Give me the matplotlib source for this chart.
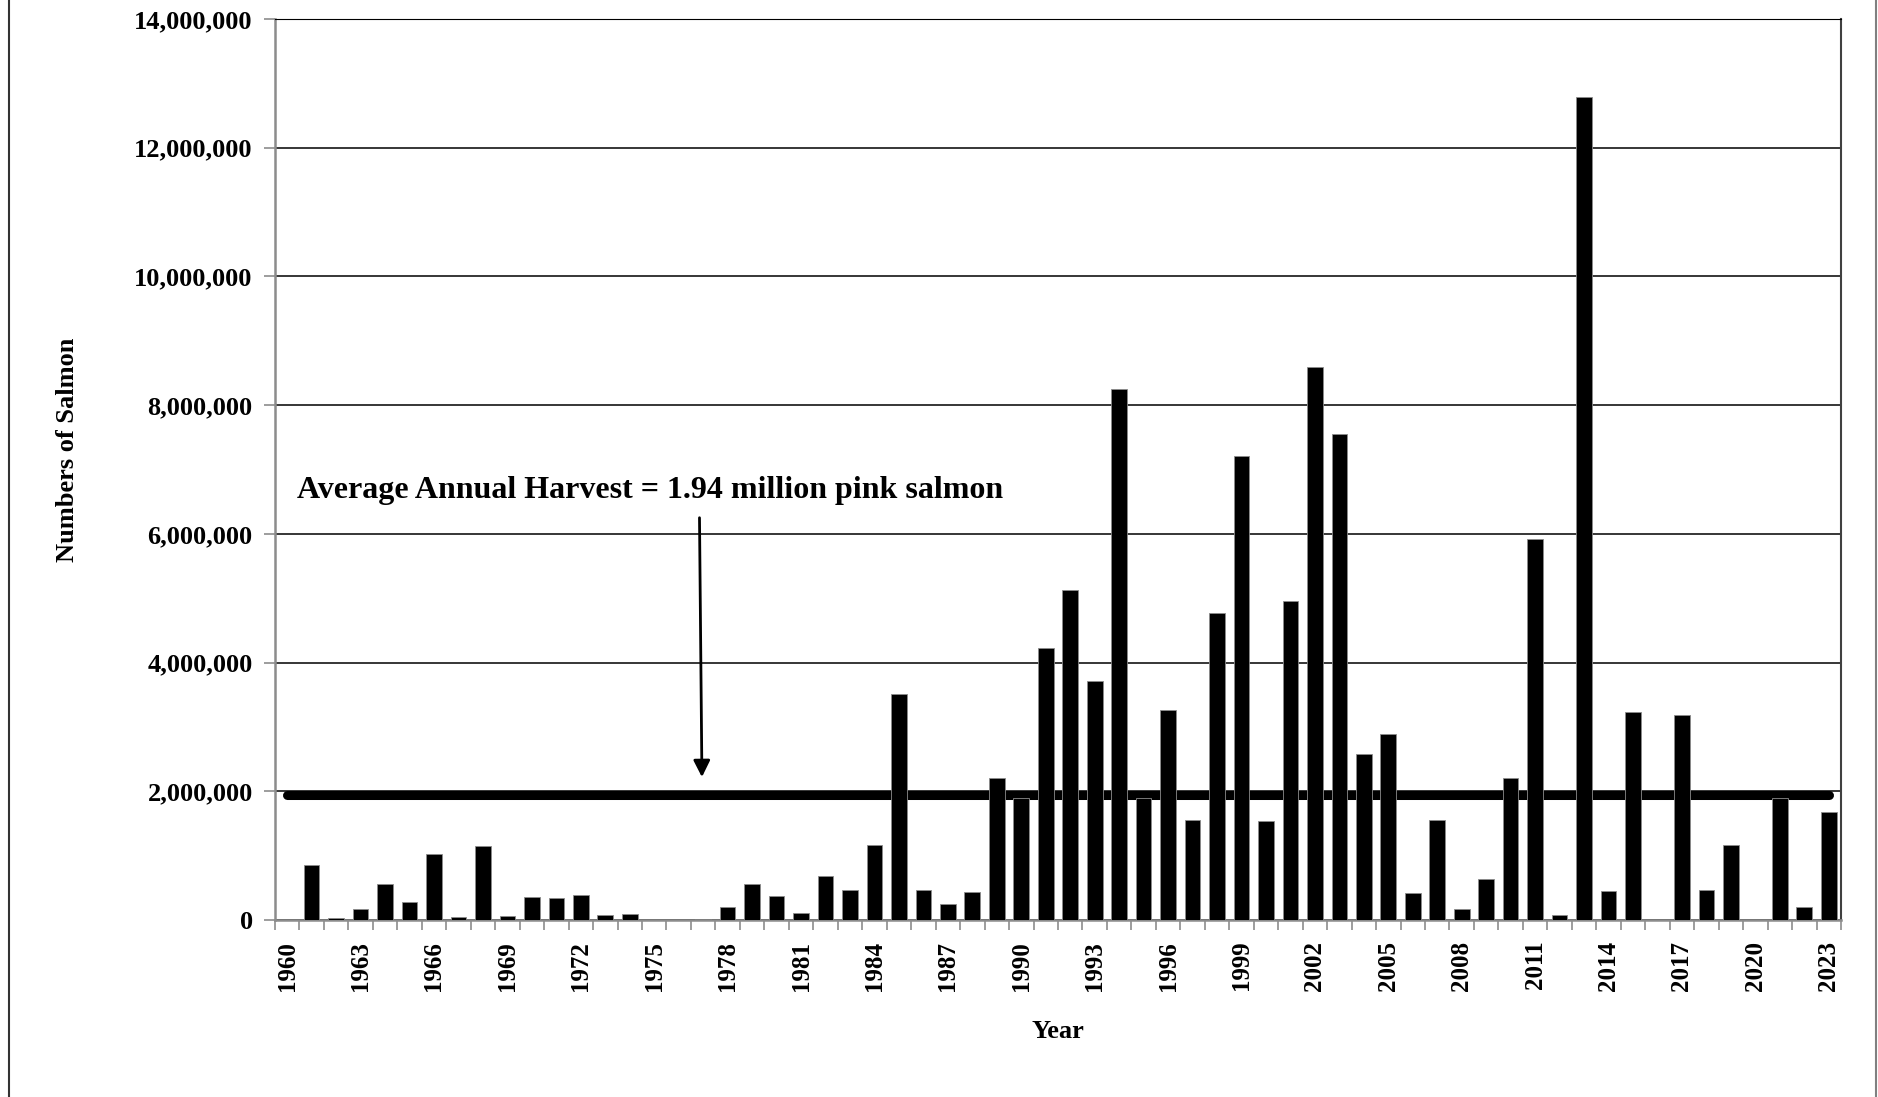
import numpy as np
import matplotlib
matplotlib.use("Agg")
import matplotlib.pyplot as plt
from matplotlib.lines import Line2D

# =========================
# DATA
# =========================
years = list(range(1960, 2024))
harvest = [
    0, 850000, 30000, 170000, 560000, 280000, 1020000, 40000, 1150000, 60000,      # 1960-1969
    350000, 340000, 390000, 70000, 90000, 0, 0, 10000, 200000, 560000,             # 1970-1979
    370000, 110000, 690000, 470000, 1170000, 3510000, 470000, 240000, 430000, 2210000,  # 1980-1989
    1900000, 4220000, 5130000, 3710000, 8250000, 1900000, 3270000, 1550000, 4770000, 7210000,  # 1990-1999
    1540000, 4960000, 8590000, 7550000, 2580000, 2890000, 420000, 1550000, 170000, 640000,  # 2000-2009
    2210000, 5920000, 80000, 12780000, 450000, 3230000, 0, 3180000, 470000, 1160000,  # 2010-2019
    0, 1900000, 200000, 1680000,                                                   # 2020-2023
]
average = 1940000
label_years = years[::3]
yticks = list(range(0, 14000001, 2000000))
note = "Average Annual Harvest = 1.94 million pink salmon"

# =========================
# FIGURE
# =========================
plt.rcParams["font.family"] = ["Liberation Serif", "DejaVu Serif"]
plt.rcParams["font.weight"] = "bold"

fig = plt.figure(figsize=(18.78, 10.97), dpi=100)
ax = fig.add_axes([0.1464, 0.1614, 0.8339, 0.8213])

x = np.arange(len(years))

# average line under the bars
ax.plot([0, len(years) - 1], [average, average], color="black", lw=6.5,
        solid_capstyle="round", zorder=2)

ax.bar(x, harvest, width=0.64, color="black", edgecolor="#8c8c8c",
       linewidth=0.6, zorder=3)

ax.set_xlim(-0.5, len(years) - 0.5)
ax.set_ylim(0, 14000000)

ax.set_yticks(yticks)
ax.set_yticklabels([f"{v:,}" for v in yticks], fontsize=19, fontweight="bold")
ax.yaxis.grid(True, color="black", lw=1.1, zorder=0)
ax.set_axisbelow(True)
ax.tick_params(axis="y", length=8, width=1.2, color="#8c8c8c", pad=8)

# year labels at centers, tick marks between categories
ax.set_xticks([years.index(y) for y in label_years])
ax.set_xticklabels([str(y) for y in label_years], rotation=90, fontsize=18,
                   fontweight="bold")
ax.set_xticks(np.arange(-0.5, len(years)), minor=True)
ax.tick_params(axis="x", which="major", length=0, pad=15)
ax.tick_params(axis="x", which="minor", length=7, width=1.2, color="#8c8c8c")

for side in ["left", "bottom"]:
    ax.spines[side].set_color("#8c8c8c")
    ax.spines[side].set_linewidth(1.8)
ax.spines["top"].set_color("black")
ax.spines["right"].set_color("#404040")
ax.spines["right"].set_linewidth(1.5)

ax.set_ylabel("Numbers of Salmon", fontsize=19, fontweight="bold")
ax.yaxis.set_label_coords(-0.125, 0.522)
ax.set_xlabel("Year", fontsize=19, fontweight="bold")
ax.xaxis.set_label_coords(0.5, -0.111)

# annotation text with arrow
ax.text(0.4, 6670000, note, fontsize=23, fontweight="bold",
        ha="left", va="center", zorder=5)
ax.annotate("", xy=(16.95, 2220000), xytext=(16.85, 6250000),
            arrowprops=dict(arrowstyle="-|>", color="black", lw=2,
                            mutation_scale=25, shrinkA=0, shrinkB=0),
            zorder=5)

# outer frame lines (left and right only)
fig.add_artist(Line2D([9 / 1878, 9 / 1878], [0, 1], color="#333333", lw=1.5))
fig.add_artist(Line2D([1876 / 1878, 1876 / 1878], [0, 1], color="#808080", lw=1.5))

fig.savefig("out.png", dpi=100)
